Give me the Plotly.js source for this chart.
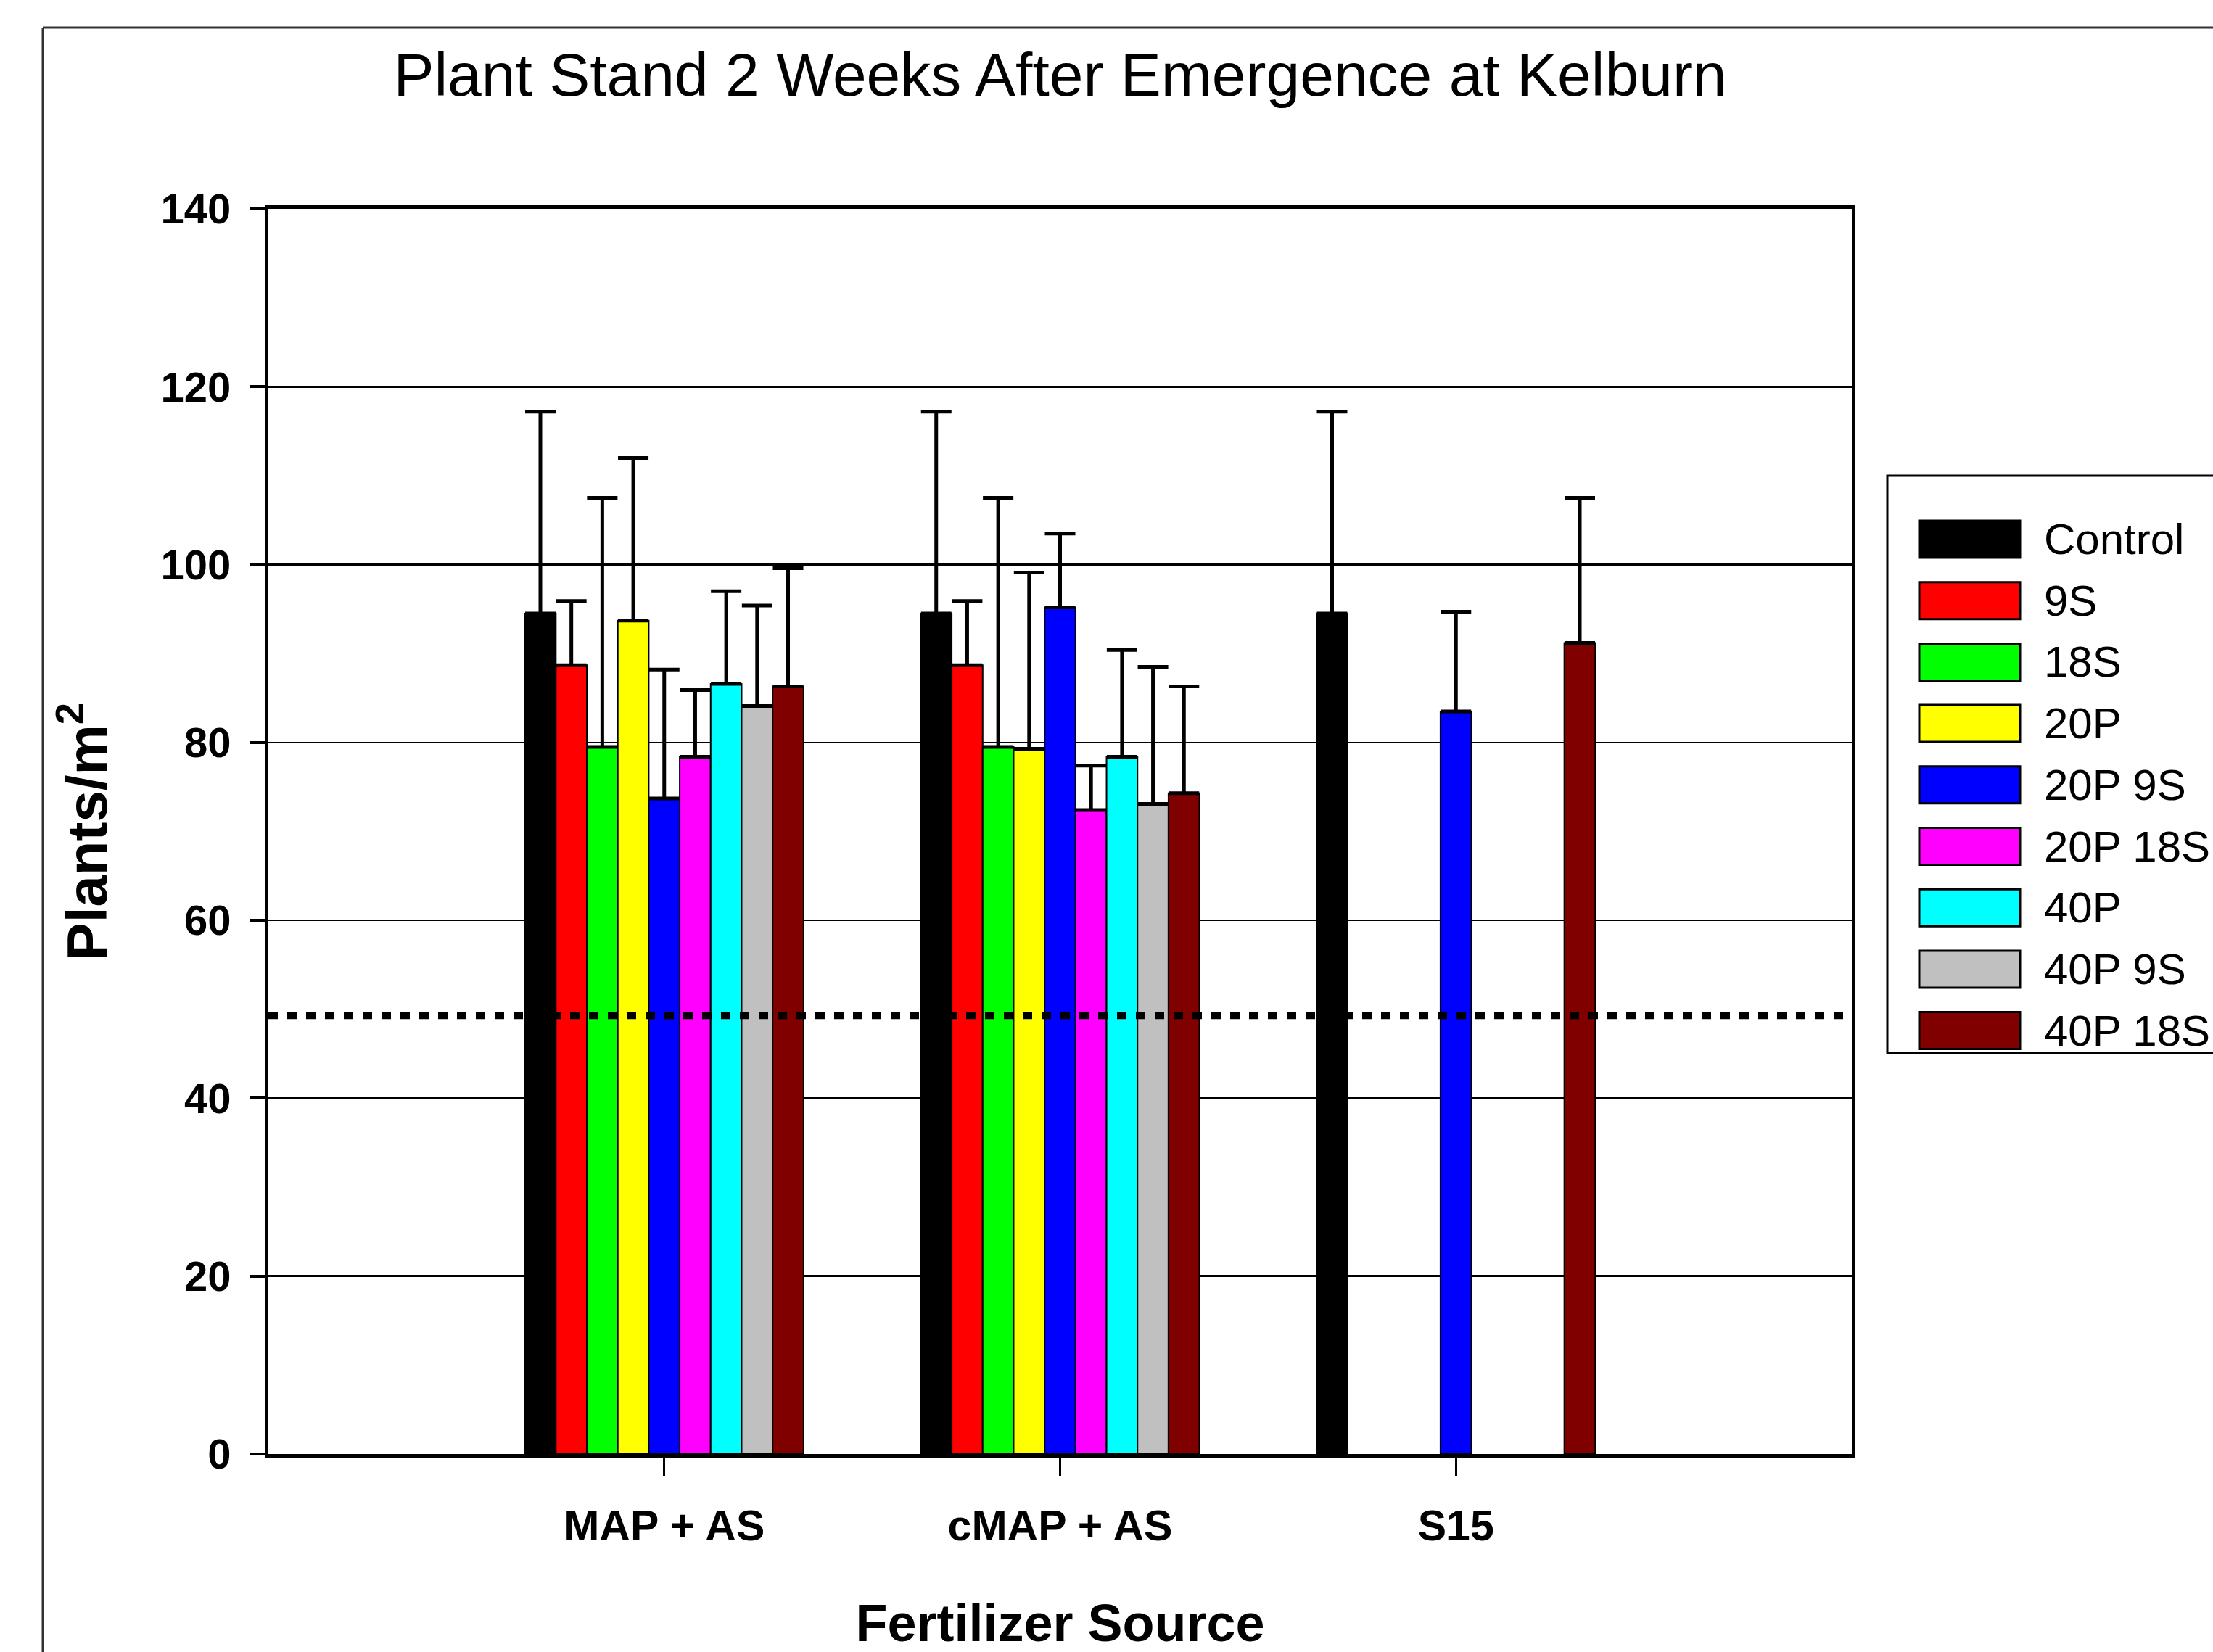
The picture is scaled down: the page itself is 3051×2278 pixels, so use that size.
<!DOCTYPE html>
<html><head><meta charset="utf-8">
<script src="https://cdn.plot.ly/plotly-3.0.1.min.js"></script>
<style>html,body{margin:0;padding:0;background:#fff;overflow:hidden}#chart{width:3051px;height:2278px;}</style>
</head><body><div id="chart"></div>
<script>
// ---- data ----
const categories = ['MAP + AS', 'cMAP + AS', 'S15'];
const seriesNames = ['Control', '9S', '18S', '20P', '20P 9S', '20P 18S', '40P', '40P 9S', '40P 18S'];
const seriesColors = ['#000000', '#FF0000', '#00FF00', '#FFFF00', '#0000FF', '#FF00FF', '#00FFFF', '#C0C0C0', '#800000'];

const controlVals = [94.5, 94.5, 94.5];
const s9Vals      = [88.7, 88.7, null];
const s18Vals     = [79.5, 79.5, null];
const p20Vals     = [93.7, 79.3, null];
const p20s9Vals   = [73.7, 95.2, 83.5];
const p20s18Vals  = [78.4, 72.4, null];
const p40Vals     = [86.6, 78.4, null];
const p40s9Vals   = [84.1, 73.1, null];
const p40s18Vals  = [86.3, 74.3, 91.2];

const controlErr = [22.7, 22.7, 22.7];
const s9Err      = [7.2, 7.2, null];
const s18Err     = [28.0, 28.0, null];
const p20Err     = [18.3, 19.8, null];
const p20s9Err   = [14.5, 8.3, 11.2];
const p20s18Err  = [7.5, 5.0, null];
const p40Err     = [10.4, 12.0, null];
const p40s9Err   = [11.3, 15.4, null];
const p40s18Err  = [13.3, 12.0, 16.3];

const thresholdValue = 49.3;
const yTicks = [0, 20, 40, 60, 80, 100, 120, 140];

const seriesValues = [controlVals, s9Vals, s18Vals, p20Vals, p20s9Vals, p20s18Vals, p40Vals, p40s9Vals, p40s18Vals];
const seriesErrors = [controlErr, s9Err, s18Err, p20Err, p20s9Err, p20s18Err, p40Err, p40s9Err, p40s18Err];

// ---- fonts ----
function hasFont(name) {
  const c = document.createElement('canvas').getContext('2d');
  const s = 'abcdefghijklmnopqrstuvwxyzABCDEFGHIJKLMNOPQRSTUVWXYZ0123456789';
  c.font = '72px monospace'; const w1 = c.measureText(s).width;
  c.font = '72px "' + name + '", monospace'; const w2 = c.measureText(s).width;
  c.font = '72px serif'; const w3 = c.measureText(s).width;
  c.font = '72px "' + name + '", serif'; const w4 = c.measureText(s).width;
  return (w1 !== w2) || (w3 !== w4);
}
const narrow = hasFont('Liberation Sans Narrow');
const NF = narrow ? '"Liberation Sans Narrow", "Liberation Sans", Arial, sans-serif' : '"Liberation Sans", Arial, sans-serif';
const RF = '"Liberation Sans", Arial, sans-serif';
const sz = narrow
  ? {title: 103, ytick: 68, xtick: 70, xtitle: 84, legend: 71}
  : {title: 84, ytick: 58, xtick: 59, xtitle: 72, legend: 60};

// ---- geometry helpers (plot area in px) ----
const W = 3051, H = 2278;
const PL = 370, PR = 2553, PT = 288, PB = 2005;
const px = v => (v - PL) / (PR - PL);
const py = v => (PB - v) / (PB - PT);

const traces = seriesNames.map((name, i) => ({
  type: 'bar',
  name: name,
  x: categories,
  y: seriesValues[i],
  marker: {color: seriesColors[i], line: {color: '#000000', width: 2}},
  error_y: {
    type: 'data', symmetric: false,
    array: seriesErrors[i],
    arrayminus: seriesErrors[i].map(e => (e === null ? null : 0)),
    color: '#000000', thickness: 5, width: 21
  },
  showlegend: false,
  hoverinfo: 'skip'
}));

const shapes = [];
const annotations = [];

// threshold line
shapes.push({
  type: 'line', xref: 'paper', yref: 'y', x0: 0, x1: 1, y0: thresholdValue, y1: thresholdValue,
  line: {color: '#000000', width: 10, dash: '13px,13px'}, layer: 'above'
});

// outer frame (top & left edges visible)
shapes.push({type: 'line', xref: 'paper', yref: 'paper', x0: px(59), x1: px(W + 10), y0: py(38), y1: py(38),
  line: {color: '#333333', width: 3}, layer: 'above'});
shapes.push({type: 'line', xref: 'paper', yref: 'paper', x0: px(59), x1: px(59), y0: py(38), y1: py(H + 10),
  line: {color: '#333333', width: 3}, layer: 'above'});

// legend box
shapes.push({type: 'rect', xref: 'paper', yref: 'paper', x0: px(2602), x1: px(W + 20), y0: py(656), y1: py(1452),
  line: {color: '#000000', width: 3}, fillcolor: 'rgba(0,0,0,0)', layer: 'above'});
seriesNames.forEach((name, i) => {
  const top = 718 + i * 84.7;
  shapes.push({type: 'rect', xref: 'paper', yref: 'paper', x0: px(2646), x1: px(2785), y0: py(top), y1: py(top + 51),
    line: {color: '#000000', width: 3}, fillcolor: seriesColors[i], layer: 'above'});
  annotations.push({xref: 'paper', yref: 'paper', x: px(2816), y: py(top + 25.5), xanchor: 'left', yanchor: 'middle',
    text: name, showarrow: false, font: {family: NF, size: sz.legend, color: '#000000'}});
});

const layout = {
  width: W, height: H,
  paper_bgcolor: '#ffffff', plot_bgcolor: '#ffffff',
  margin: {l: PL, r: W - PR, t: PT, b: H - PB, pad: 0},
  barmode: 'group', bargap: 0.296, bargroupgap: 0,
  showlegend: false,
  title: {
    text: 'Plant Stand 2 Weeks After Emergence at Kelburn',
    font: {family: NF, size: sz.title, color: '#000000'},
    x: 0.5, xref: 'paper', xanchor: 'center',
    y: 1 - 132 / H, yref: 'container', yanchor: 'bottom'
  },
  xaxis: {
    type: 'category', range: [-1, 3], automargin: false,
    showline: true, linecolor: '#000000', linewidth: 5, mirror: true,
    ticks: 'outside', ticklen: 25, tickwidth: 3, tickcolor: '#000000',
    ticklabelstandoff: 18,
    tickfont: {family: NF, size: sz.xtick, color: '#000000', weight: 'bold'},
    showgrid: false, zeroline: false,
    title: {text: '<b>Fertilizer Source</b>', font: {family: NF, size: sz.xtitle, color: '#000000'}, standoff: 81}
  },
  yaxis: {
    range: [0, 140], tickvals: yTicks, ticktext: yTicks.map(String), automargin: false,
    showline: true, linecolor: '#000000', linewidth: 4, mirror: true,
    ticks: 'outside', ticklen: 22, tickwidth: 4, tickcolor: '#000000',
    ticklabelstandoff: 14,
    tickfont: {family: NF, size: sz.ytick, color: '#000000', weight: 'bold'},
    showgrid: true, gridcolor: '#000000', gridwidth: 2.5, zeroline: false,
    title: {text: '<b>Plants/m<sup>2</sup></b>', font: {family: RF, size: 78, color: '#000000'}, standoff: 49}
  },
  shapes: shapes,
  annotations: annotations
};

Plotly.newPlot('chart', traces, layout, {displayModeBar: false, staticPlot: true});
</script>
</body></html>
